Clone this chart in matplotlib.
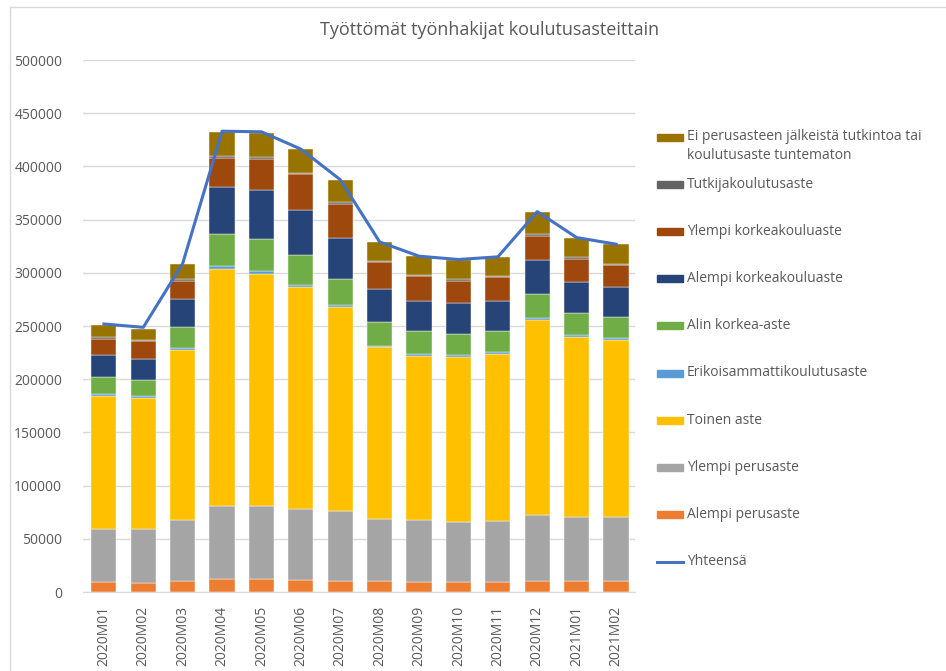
import matplotlib
matplotlib.use('Agg')
import matplotlib.pyplot as plt
import numpy as np
from matplotlib.patches import Rectangle
from matplotlib.lines import Line2D

months = ['2020M01', '2020M02', '2020M03', '2020M04', '2020M05', '2020M06', '2020M07',
          '2020M08', '2020M09', '2020M10', '2020M11', '2020M12', '2021M01', '2021M02']

alempi_perus = [9400, 8750, 10300, 11900, 11900, 11250, 10600, 10300, 9400, 9400, 9400, 10600, 10300, 10300]
ylempi_perus = [50000, 50000, 56900, 69350, 69350, 66900, 65300, 58450, 57800, 56200, 57200, 62200, 60300, 60300]
toinen_aste = [125000, 123750, 160300, 222500, 217500, 208750, 192200, 161250, 154700, 155000, 157150, 182800, 169400, 166300]
erikois = [1900, 1250, 1900, 3100, 3100, 1850, 1600, 1600, 1850, 1900, 1850, 1900, 1900, 1850]
alin_korkea = [15600, 15600, 19350, 30000, 30000, 28150, 24700, 22150, 21250, 20000, 20000, 22500, 20600, 19350]
alempi_kk = [20600, 20000, 26250, 43700, 45600, 42500, 38700, 31250, 28750, 29400, 28150, 32500, 28750, 28800]
ylempi_kk = [15600, 16250, 17500, 27500, 29400, 33100, 31900, 25000, 23150, 20600, 21850, 21900, 21850, 20000]
tutkija = [1300, 1300, 1250, 1900, 1850, 1250, 1250, 1250, 1200, 1900, 1300, 1850, 1300, 1200]
ei_perus = [11900, 10600, 14400, 22500, 23150, 22500, 20650, 18150, 17500, 17500, 17500, 20650, 18100, 18800]
yhteensa = [251900, 248750, 308750, 433100, 432500, 416250, 387500, 329000, 315600, 312500, 315000, 357500, 333100, 326900]

series = [
    ('Alempi perusaste', alempi_perus, '#ED7D31'),
    ('Ylempi perusaste', ylempi_perus, '#A5A5A5'),
    ('Toinen aste', toinen_aste, '#FFC000'),
    ('Erikoisammattikoulutusaste', erikois, '#5B9BD5'),
    ('Alin korkea-aste', alin_korkea, '#70AD47'),
    ('Alempi korkeakouluaste', alempi_kk, '#264478'),
    ('Ylempi korkeakouluaste', ylempi_kk, '#9E480E'),
    ('Tutkijakoulutusaste', tutkija, '#636363'),
    ('Ei perusasteen jälkeistä tutkintoa tai\nkoulutusaste tuntematon', ei_perus, '#997300'),
]

plt.rcParams['font.family'] = ['Open Sans', 'DejaVu Sans']
txt = '#595959'

W, H = 946, 671
fig = plt.figure(figsize=(W / 100, H / 100), dpi=100)
ax = fig.add_axes([83 / W, 1 - 592 / H, (635 - 83) / W, (592 - 60) / H])

x = np.arange(len(months))
bottom = np.zeros(len(months))
for name, vals, col in series:
    ax.bar(x, vals, width=0.64, bottom=bottom, color=col, edgecolor='white', linewidth=0.3, zorder=2)
    bottom += np.array(vals)

ax.plot(x, yhteensa, color='#4472C4', linewidth=2.2, zorder=3)

ax.set_xlim(-0.53, 13.48)
ax.set_ylim(0, 500000)
ax.set_yticks(np.arange(0, 500001, 50000))
ax.set_yticklabels([str(v) for v in range(0, 500001, 50000)], color=txt, fontsize=10)
ax.set_xticks(x)
ax.set_xticklabels(months, rotation=90, color=txt, fontsize=10)
ax.tick_params(axis='y', length=0, pad=15)
ax.tick_params(axis='x', length=0, pad=10)
ax.grid(axis='y', color='#D9D9D9', linewidth=1, zorder=0)
ax.set_axisbelow(True)
for s in ['top', 'right', 'left']:
    ax.spines[s].set_visible(False)
ax.spines['bottom'].set_color('#D9D9D9')

fig.text(490 / W, 1 - 30 / H, 'Työttömät työnhakijat koulutusasteittain', ha='center', va='center',
         color=txt, fontsize=13)

# legend drawn by hand to match Excel spacing
entries = [(n, c) for n, v, c in series][::-1]
for i, (name, col) in enumerate(entries):
    yy = 137 + 47.2 * i
    fig.add_artist(Rectangle((657 / W, 1 - (yy + 3.5) / H), 26 / W, 7 / H, color=col,
                             transform=fig.transFigure))
    if '\n' in name:
        fig.text(687 / W, 1 - (yy - 8) / H, name, ha='left', va='top',
                 color=txt, fontsize=10, linespacing=1.4)
    else:
        fig.text(687 / W, 1 - yy / H, name, ha='left', va='center', color=txt, fontsize=10)
yy = 137 + 47.2 * len(entries)
fig.add_artist(Line2D([657 / W, 683 / W], [1 - yy / H, 1 - yy / H], color='#4472C4', linewidth=2.2,
                      transform=fig.transFigure))
fig.text(687 / W, 1 - yy / H, 'Yhteensä', ha='left', va='center', color=txt, fontsize=10)

# chart area border
fig.add_artist(Rectangle((9.5 / W, -0.1), 2, 1 - 7 / H + 0.1, fill=False, edgecolor='#D9D9D9',
                         linewidth=1, transform=fig.transFigure))

fig.savefig('out.png', dpi=100)
